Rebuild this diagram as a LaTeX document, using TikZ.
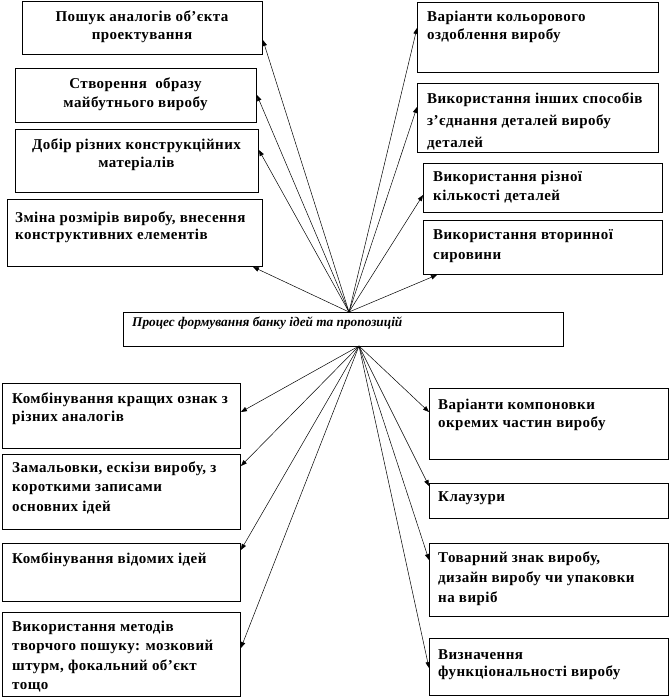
\documentclass[tikz,border=0pt]{standalone}
\usepackage{fontspec}
\setmainfont{Liberation Serif}
\usetikzlibrary{arrows.meta}
\newcommand\lblfont{\fontsize{15}{19}\selectfont\bfseries\addfontfeature{LetterSpace=3}}
\newcommand\ctrfont{\fontsize{13.3}{15}\selectfont\bfseries\itshape}
\newcommand\fl{\rule{0pt}{13pt}}
\tikzset{
  x=1pt, y=-1pt,
  box/.style={draw, line width=0.9pt, inner sep=0pt, anchor=north west, rectangle},
  lbl/.style={inner sep=0pt, anchor=north west, align=left, font=\lblfont},
  clbl/.style={inner sep=0pt, anchor=north, align=center, font=\lblfont},
  lsk/.style={execute at begin node={\setlength\baselineskip{#1pt}}},
  arr/.style={line width=0.5pt, -{Triangle[length=6pt,width=4.5pt]}},
}
\begin{document}
\begin{tikzpicture}
\useasboundingbox (0,0) rectangle (670,698);
% top-left boxes
\node[box, minimum width=240, minimum height=53] (L1) at (22,1) {};
\node[clbl, lsk=18] (tL1) at (142,8) {\fl Пошук аналогів об’єкта\\проектування};
\node[box, minimum width=241, minimum height=54] (L2) at (15,68) {};
\node[clbl, lsk=19] (tL2) at (135.5,75) {\fl Створення \ образу\\майбутнього виробу};
\node[box, minimum width=243, minimum height=63] (L3) at (15,129) {};
\node[clbl, lsk=18] (tL3) at (136.5,136) {\fl Добір різних конструкційних\\матеріалів};
\node[box, minimum width=255, minimum height=67] (L4) at (7,199) {};
\node[lbl, lsk=17] (tL4) at (15,209) {\fl Зміна розмірів виробу, внесення\\конструктивних елементів};
% top-right boxes
\node[box, minimum width=241, minimum height=70] (R1) at (417,2) {};
\node[lbl, lsk=18] (tR1) at (427,8) {\fl Варіанти кольорового\\оздоблення виробу};
\node[box, minimum width=241, minimum height=69] (R2) at (417,83) {};
\node[lbl, lsk=22] (tR2) at (427,90) {\fl Використання інших способів\\з’єднання деталей виробу\\деталей};
\node[box, minimum width=239, minimum height=49] (R3) at (423,163) {};
\node[lbl, lsk=19] (tR3) at (433,168) {\fl Використання різної\\кількості деталей};
\node[box, minimum width=239, minimum height=54] (R4) at (423,220) {};
\node[lbl, lsk=20] (tR4) at (433,226) {\fl Використання вторинної\\сировини};
% centre
\node[box, minimum width=440, minimum height=34] (C) at (123,312) {};
\node[inner sep=0pt, anchor=north west, font=\ctrfont] (tC) at (132,316.5) {\rule{0pt}{10pt}Процес формування банку ідей та пропозицій};
\coordinate (T) at (349,312);
\coordinate (B) at (359,346);
% bottom-left boxes
\node[box, minimum width=238, minimum height=65] (BL1) at (2,383) {};
\node[lbl, lsk=18] (tBL1) at (12,390) {\fl Комбінування кращих ознак з\\різних аналогів};
\node[box, minimum width=238, minimum height=75] (BL2) at (2,454) {};
\node[lbl, lsk=19.5] (tBL2) at (12,459) {\fl Замальовки, ескізи виробу, з\\короткими записами\\основних ідей};
\node[box, minimum width=238, minimum height=58] (BL3) at (2,543) {};
\node[lbl] (tBL3) at (12,550) {\fl Комбінування відомих ідей};
\node[box, minimum width=238, minimum height=84] (BL4) at (2,612) {};
\node[lbl, lsk=19.5] (tBL4) at (12,618) {\fl Використання методів\\творчого пошуку: мозковий\\штурм, фокальний об’єкт\\тощо};
% bottom-right boxes
\node[box, minimum width=239, minimum height=71] (BR1) at (429,388) {};
\node[lbl, lsk=18] (tBR1) at (438,396) {\fl Варіанти компоновки\\окремих частин виробу};
\node[box, minimum width=239, minimum height=35] (BR2) at (429,483) {};
\node[lbl] (tBR2) at (438,488) {\fl Клаузури};
\node[box, minimum width=239, minimum height=73] (BR3) at (429,543) {};
\node[lbl, lsk=20] (tBR3) at (438,549) {\fl Товарний знак виробу,\\дизайн виробу чи упаковки\\на виріб};
\node[box, minimum width=239, minimum height=57] (BR4) at (429,638) {};
\node[lbl, lsk=17] (tBR4) at (438,646) {\fl Визначення\\функціональності виробу};
% connectors
\draw[arr] (T) -- (L1.east |- 0,40);
\draw[arr] (T) -- (L2.east |- 0,95);
\draw[arr] (T) -- (L3.east |- 0,150);
\draw[arr] (T) -- (253,0 |- L4.south);
\draw[arr] (T) -- (R1.west |- 0,28);
\draw[arr] (T) -- (R2.west |- 0,107);
\draw[arr] (T) -- (R3.west |- 0,195);
\draw[arr] (T) -- (437,0 |- R4.south);
\draw[arr] (B) -- (BL1.east |- 0,412);
\draw[arr] (B) -- (BL2.east |- 0,466);
\draw[arr] (B) -- (BL3.east |- 0,550);
\draw[arr] (B) -- (BL4.east |- 0,648);
\draw[arr] (B) -- (BR1.west |- 0,412);
\draw[arr] (B) -- (BR2.west |- 0,486);
\draw[arr] (B) -- (BR3.west |- 0,560);
\draw[arr] (B) -- (BR4.west |- 0,668);
\end{tikzpicture}
\end{document}
